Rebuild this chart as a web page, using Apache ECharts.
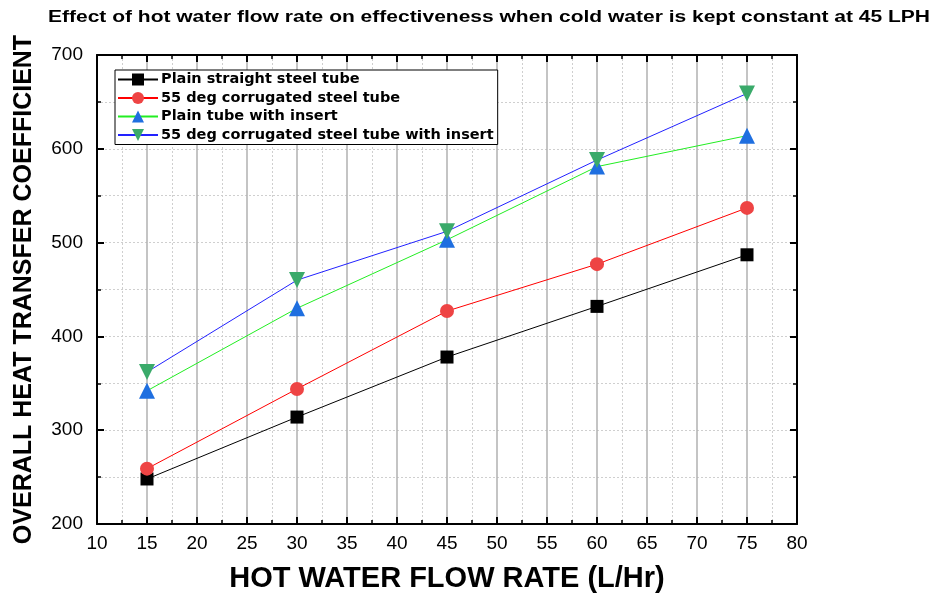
<!DOCTYPE html>
<html>
<head>
<meta charset="utf-8">
<script src="https://cdn.jsdelivr.net/npm/echarts@6/dist/echarts.min.js"></script>
<style>
  html, body { margin: 0; padding: 0; background: #fff; }
  #chart { width: 937px; height: 598px; }
</style>
</head>
<body>
<div id="chart"></div>
<script>
// Hot water flow rate (L/Hr)
const flowRates = [15, 30, 45, 60, 75];

// Overall heat transfer coefficient per tube configuration
const plainStraight = [248, 314, 378, 432, 487];
const corrugated55 = [259, 344, 427, 477, 537];
const plainInsert = [342, 430, 503, 581, 614];
const corrugated55Insert = [362, 460, 512, 588, 659];

const seriesNames = [
  'Plain straight steel tube',
  '55 deg corrugated steel tube',
  'Plain tube with insert',
  '55 deg corrugated steel tube with insert'
];

const chartTitle = 'Effect of hot water flow rate on effectiveness when cold water is kept constant at 45 LPH';

const pairs = (ys) => flowRates.map((x, i) => [x, ys[i]]);

const font = 'Liberation Sans, Arial, sans-serif';

// The heading is drawn a little wide: stretch it to span from 48px to 930px.
const titleSize = 16;
const measureCtx = document.createElement('canvas').getContext('2d');
measureCtx.font = 'bold ' + titleSize + 'px ' + font;
const titleStretch = 882 / measureCtx.measureText(chartTitle).width;

const chart = echarts.init(document.getElementById('chart'));

function lineSeries(name, ys, lineColor, symbol, symbolSize, markColor, rotate) {
  return {
    name: name,
    type: 'line',
    data: pairs(ys),
    symbol: symbol,
    symbolSize: symbolSize,
    symbolRotate: rotate || 0,
    lineStyle: { color: lineColor, width: 1 },
    itemStyle: { color: markColor },
    z: 3
  };
}

const frameAxis = {
  axisLine: { show: true, lineStyle: { color: '#000', width: 2 } },
  axisTick: { show: true, inside: true, length: 7, lineStyle: { color: '#000', width: 2 } },
  minorTick: { show: true, splitNumber: 2, length: 4, lineStyle: { color: '#000', width: 1.5 } }
};

chart.setOption({
  animation: false,
  backgroundColor: '#fff',
  graphic: [{
    type: 'text',
    x: 48,
    y: 10,
    scaleX: titleStretch,
    style: {
      text: chartTitle,
      fontFamily: font,
      fontSize: titleSize,
      fontWeight: 'bold',
      fill: '#000'
    }
  }],
  grid: { left: 97, right: 140, top: 55, bottom: 73 },
  legend: {
    orient: 'vertical',
    left: 115,
    top: 70,
    itemWidth: 40,
    itemHeight: 15,
    itemGap: 3.5,
    padding: [2, 4, 2, 2],
    borderColor: '#000',
    borderWidth: 1,
    backgroundColor: '#fff',
    data: seriesNames,
    textStyle: { fontFamily: 'DejaVu Sans, sans-serif', fontSize: 14.5, fontWeight: 'bold', color: '#000', padding: [0, 0, 0, -2] }
  },
  xAxis: [Object.assign({
    type: 'value',
    min: 10, max: 80, interval: 5,
    name: 'HOT WATER FLOW RATE (L/Hr)',
    nameLocation: 'middle',
    nameGap: 40,
    nameTextStyle: { fontFamily: font, fontSize: 29, fontWeight: 'bold', color: '#000' },
    axisLabel: { fontFamily: font, fontSize: 19, color: '#000', margin: 10 },
    splitLine: { show: true, lineStyle: { color: '#b0b0b0', width: 1.5 } },
    minorSplitLine: { show: true, lineStyle: { color: '#cfcfcf', width: 1, type: [2, 2] } }
  }, frameAxis), Object.assign({
    type: 'value',
    position: 'top',
    min: 10, max: 80, interval: 5,
    axisLabel: { show: false },
    splitLine: { show: false }
  }, frameAxis)],
  yAxis: [Object.assign({
    type: 'value',
    min: 200, max: 700, interval: 100,
    name: 'OVERALL HEAT TRANSFER COEFFICIENT',
    nameLocation: 'middle',
    nameGap: 60,
    nameTextStyle: { fontFamily: font, fontSize: 25, fontWeight: 'bold', color: '#000' },
    axisLabel: { fontFamily: font, fontSize: 19, color: '#000', margin: 14 },
    splitLine: { show: true, lineStyle: { color: '#cfcfcf', width: 1, type: [2, 2] } },
    minorSplitLine: { show: true, lineStyle: { color: '#cfcfcf', width: 1, type: [2, 2] } }
  }, frameAxis), Object.assign({
    type: 'value',
    position: 'right',
    min: 200, max: 700, interval: 100,
    axisLabel: { show: false },
    splitLine: { show: false }
  }, frameAxis)],
  series: [
    lineSeries(seriesNames[0], plainStraight, '#000000', 'rect', 13, '#000000'),
    lineSeries(seriesNames[1], corrugated55, '#ff0000', 'circle', 14, '#ee4444'),
    lineSeries(seriesNames[2], plainInsert, '#22ee22', 'triangle', 16, '#1f6fe0'),
    lineSeries(seriesNames[3], corrugated55Insert, '#2222ff', 'triangle', 16, '#3aaa6a', 180)
  ]
});
</script>
</body>
</html>
